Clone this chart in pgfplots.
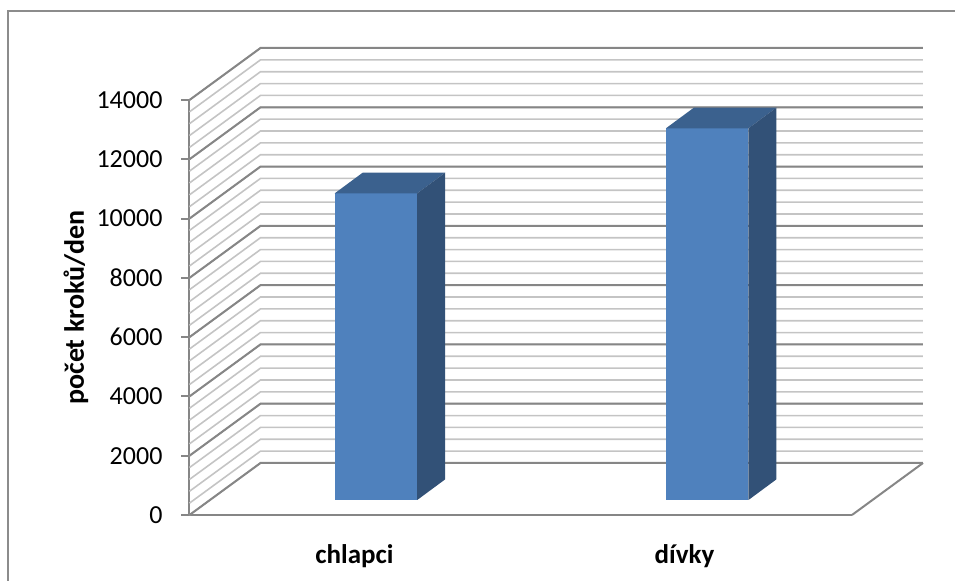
\documentclass[border=0pt]{standalone}
\usepackage{fontspec}
\setmainfont{Carlito}
\usepackage{pgfplots}
\usepackage{pgfplotstable}
\pgfplotsset{compat=1.18}
\definecolor{barfront}{HTML}{4F81BD}
\definecolor{bartop}{HTML}{3B618E}
\definecolor{barside}{HTML}{325177}
\definecolor{gridmaj}{HTML}{868686}
\definecolor{gridmin}{HTML}{C4C4C4}
\definecolor{framec}{HTML}{8C8C8C}

% bar data: left edge of front face (px units on the x axis) and value
\pgfplotstableread{
left steps
334.75 10345
666 12540
}\bardata

% face shapes: x offset, base offset (value units), value multiplier
\pgfplotstableread{
x b h
0 506 0
82.5 506 0
82.5 506 1
0 506 1
}\frontface
\pgfplotstableread{
x b h
0 506 1
82.5 506 1
110.5 1204 1
28 1204 1
}\topface
\pgfplotstableread{
x b h
82.5 506 0
110.5 1204 0
110.5 1204 1
82.5 506 1
}\sideface

\begin{document}
\begin{tikzpicture}
\pgfplotstablegetelem{0}{steps}\of\bardata \let\vA\pgfplotsretval
\pgfplotstablegetelem{1}{steps}\of\bardata \let\vB\pgfplotsretval
\pgfplotstablegetelem{0}{left}\of\bardata \let\lA\pgfplotsretval
\pgfplotstablegetelem{1}{left}\of\bardata \let\lB\pgfplotsretval
\begin{axis}[
  scale only axis, width=331.25pt, height=207.5pt,
  xmin=189.5, xmax=852, ymin=0, ymax=14000,
  clip=false,
  axis x line*=bottom, axis y line*=left,
  axis line style={draw=gridmaj, line width=1pt},
  ytick={0,2000,...,14000},
  scaled y ticks=false,
  tick align=outside, major tick length=4pt,
  ytick style={draw=gridmaj, line width=1pt},
  xtick={354.5,684.5}, xticklabels={chlapci,dívky},
  xtick style={draw=none},
  /pgf/number format/1000 sep={},
  /pgf/number format/assume math mode=true,
  yticklabel style={font=\fontsize{13}{15}\selectfont, anchor=east, xshift=-6pt},
  xticklabel style={font=\fontsize{13.5}{16}\selectfont\bfseries, anchor=base, yshift=-20.5pt},
  ylabel={počet kroků/den},
  every axis y label/.style={at={(rel axis cs:-0.1713,0.5)}, rotate=90, anchor=center, font=\fontsize{14}{16}\selectfont\bfseries},
]
\coordinate (BL) at (axis cs:0,-2226.5);
\coordinate (TR) at (axis cs:955,17373.5);
% outer frame
\draw[framec, line width=1pt] (axis cs:8,-2400) -- (axis cs:8,17002) -- (axis cs:965,17002);
% walls: minor and major grid lines
\pgfplotsinvokeforeach{0,400,...,14000}{
  \draw[gridmin, line width=0.8pt] (axis cs:189.5,#1) -- (axis cs:260.5,#1+1754) -- (axis cs:923,#1+1754);
}
\pgfplotsinvokeforeach{0,2000,...,14000}{
  \draw[gridmaj, line width=1pt] (axis cs:189.5,#1) -- (axis cs:260.5,#1+1754) -- (axis cs:923,#1+1754);
}
% floor right edge
\draw[gridmaj, line width=1pt] (axis cs:852,0) -- (axis cs:923,1754);
% bars
\addplot[fill=barfront, draw=none, forget plot] table[x expr=\thisrow{x}+\lA, y expr=\thisrow{b}+\thisrow{h}*\vA]{\frontface};
\addplot[fill=bartop, draw=none, forget plot] table[x expr=\thisrow{x}+\lA, y expr=\thisrow{b}+\thisrow{h}*\vA]{\topface};
\addplot[fill=barside, draw=none, forget plot] table[x expr=\thisrow{x}+\lA, y expr=\thisrow{b}+\thisrow{h}*\vA]{\sideface};
\addplot[fill=barfront, draw=none, forget plot] table[x expr=\thisrow{x}+\lB, y expr=\thisrow{b}+\thisrow{h}*\vB]{\frontface};
\addplot[fill=bartop, draw=none, forget plot] table[x expr=\thisrow{x}+\lB, y expr=\thisrow{b}+\thisrow{h}*\vB]{\topface};
\addplot[fill=barside, draw=none, forget plot] table[x expr=\thisrow{x}+\lB, y expr=\thisrow{b}+\thisrow{h}*\vB]{\sideface};
\end{axis}
\pgfresetboundingbox
\path (BL) rectangle (TR);
\end{tikzpicture}
\end{document}
